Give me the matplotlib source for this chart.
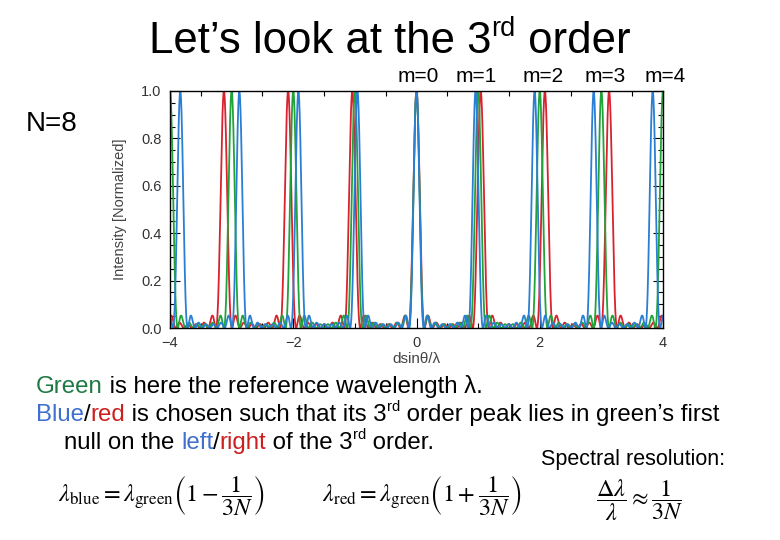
import matplotlib
matplotlib.use("Agg")
import matplotlib.pyplot as plt
import numpy as np
from matplotlib.ticker import MultipleLocator, FixedLocator


N_SLITS = 8
# wavelength relative to the green reference: 1 -/+ 1/(3N)
COLOURS = ["red", "green", "blue"]
WAVE_RATIO = [1 + 1 / 24, 1.0, 1 - 1 / 24]
LINE_COLOURS = ["#d8232f", "#22a33a", "#2a7fd4"]

X_TICKS = [-4, -2, 0, 2, 4]
X_TICKLABELS = ["\u22124", "\u22122", "0", "2", "4"]
Y_TICKS = [0.0, 0.2, 0.4, 0.6, 0.8, 1.0]
M_LABELS = ["m=0", "m=1", "m=2", "m=3", "m=4"]
M_LABEL_X = [398, 456, 523, 585, 645]

W, H = 780, 540
SANS = ["Liberation Sans", "DejaVu Sans"]
plt.rcParams["font.family"] = SANS
plt.rcParams["mathtext.fontset"] = "stix"


def grating(x, ratio, n):
    u = x / ratio
    s = np.sin(np.pi * u)
    num = np.sin(n * np.pi * u)
    with np.errstate(divide="ignore", invalid="ignore"):
        amp = np.where(np.abs(s) < 1e-9, 1.0, num / (n * s))
    return amp ** 2


def px(x, y):
    return x / W, 1 - y / H


def rich_line(fig, x, y, parts, size):
    # parts: (text, colour, superscript?)
    renderer = fig.canvas.get_renderer()
    cur = x
    for text, colour, sup in parts:
        fs = size * 0.62 if sup else size
        yy = y - size * 0.55 if sup else y
        t = fig.text(*px(cur, yy), text, color=colour, fontsize=fs,
                     va="baseline", ha="left")
        bb = t.get_window_extent(renderer)
        cur += bb.width


fig = plt.figure(figsize=(W / 100, H / 100), dpi=100)
ax = fig.add_axes([170 / W, 1 - 328 / H, (663 - 170) / W, (328 - 91) / H])

x = np.linspace(-4.0, 4.0, 6000)
for ratio, colour in zip(WAVE_RATIO, LINE_COLOURS):
    ax.plot(x, grating(x, ratio, N_SLITS), color=colour, lw=1.3)

ax.set_xlim(-4, 4)
ax.set_ylim(0, 1.0)
ax.xaxis.set_major_locator(FixedLocator(X_TICKS))
ax.set_xticklabels(X_TICKLABELS)
ax.xaxis.set_minor_locator(MultipleLocator(0.5))
ax.yaxis.set_major_locator(FixedLocator(Y_TICKS))
ax.set_yticklabels([f"{v:.1f}" for v in Y_TICKS])
ax.yaxis.set_minor_locator(MultipleLocator(0.05))
ax.tick_params(which="both", direction="in", top=True, right=True,
               labelsize=10.5, labelcolor="#333333", width=0.8)
ax.tick_params(which="major", length=7, pad=6)
ax.tick_params(which="minor", length=3.5)
for sp in ax.spines.values():
    sp.set_linewidth(1.0)
ax.set_ylabel("Intensity [Normalized]", fontsize=10.5, color="#444444", labelpad=10)
ax.set_xlabel("dsin\u03b8/\u03bb", fontsize=11, color="#444444", labelpad=1)

# title with superscript
rich_line(fig, 149, 53, [("Let\u2019s look at the 3", "black", False),
                         ("rd", "black", True),
                         (" order", "black", False)], 31.5)

for lab, lx in zip(M_LABELS, M_LABEL_X):
    fig.text(*px(lx, 82), lab, fontsize=15, va="baseline", ha="left")
fig.text(*px(26, 131), "N=8", fontsize=20, va="baseline", ha="left")

green_txt = "#1e7a43"
blue_txt = "#3f6fcf"
red_txt = "#cc1f1f"
fs = 17.3
rich_line(fig, 36, 393, [("Green", green_txt, False),
                         (" is here the reference wavelength \u03bb.", "black", False)], fs)
rich_line(fig, 36, 421, [("Blue", blue_txt, False), ("/", "black", False),
                         ("red", red_txt, False),
                         (" is chosen such that its 3", "black", False),
                         ("rd", "black", True),
                         (" order peak lies in green\u2019s first", "black", False)], fs)
rich_line(fig, 64, 449, [("null on the ", "black", False), ("left", blue_txt, False),
                         ("/", "black", False), ("right", red_txt, False),
                         (" of the 3", "black", False), ("rd", "black", True),
                         (" order.", "black", False)], fs)
fig.text(*px(541, 465), "Spectral resolution:", fontsize=15.5, va="baseline", ha="left")

eq_fs = 17.5
fig.text(*px(58, 496), r"$\lambda_{\mathrm{blue}} = \lambda_{\mathrm{green}}\left(1-\dfrac{1}{3N}\right)$",
         fontsize=eq_fs, va="center", ha="left")
fig.text(*px(322, 496), r"$\lambda_{\mathrm{red}} = \lambda_{\mathrm{green}}\left(1+\dfrac{1}{3N}\right)$",
         fontsize=eq_fs, va="center", ha="left")
fig.text(*px(596, 500), r"$\dfrac{\Delta\lambda}{\lambda} \approx \dfrac{1}{3N}$",
         fontsize=eq_fs, va="center", ha="left")

fig.savefig("out.png", dpi=100)
